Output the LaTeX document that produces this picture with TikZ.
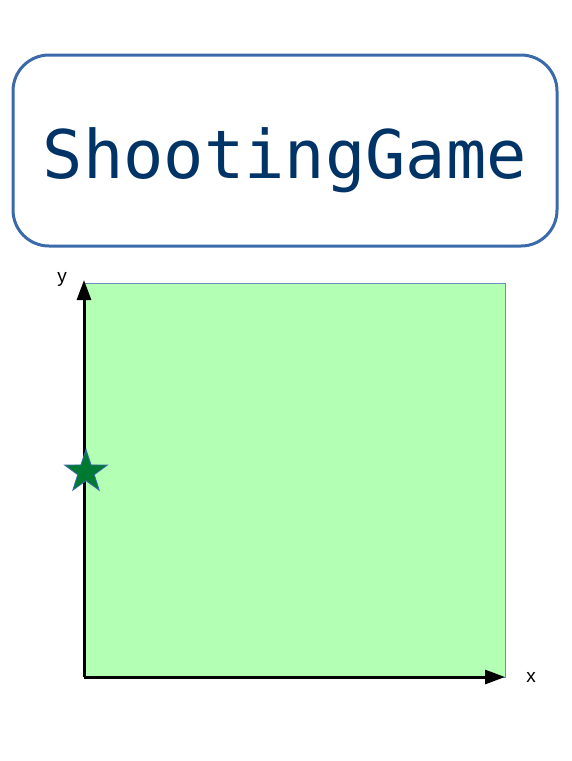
\documentclass[tikz,border=0pt]{standalone}
\usepackage{fontspec}
\setmainfont{Liberation Sans}
\newfontfamily\titlefont{DejaVu Sans Mono}
\usetikzlibrary{arrows.meta}
\definecolor{boxblue}{HTML}{3A6AAA}
\definecolor{navy}{HTML}{003366}
\definecolor{lightgreen}{HTML}{B3FFB3}
\definecolor{rectborder}{HTML}{6C8EBF}
\definecolor{stargreen}{HTML}{007A33}
\tikzset{
  titlebox/.style={draw=boxblue, line width=3pt, rounded corners=36pt, fill=white,
    minimum width=544pt, minimum height=191pt, inner sep=0pt},
  titletext/.style={text=navy, font=\titlefont\fontsize{67}{67}\selectfont, inner sep=0pt, anchor=base},
  field/.style={draw=rectborder, line width=0.8pt, fill=lightgreen},
  axis/.style={line width=3pt, black, -{Triangle[length=20pt,width=14pt]}},
  axislabel/.style={font=\fontsize{19}{19}\selectfont, inner sep=0pt, anchor=base},
  player/.style={draw=boxblue, line width=0.8pt, fill=stargreen, line join=miter}
}
\begin{document}
\begin{tikzpicture}[x=1pt,y=-1pt]
\useasboundingbox (0,0) rectangle (571,761);
\node[titlebox] (title) at (285,150.5) {};
\node[titletext] (titlelabel) at (285,178) {ShootingGame};
\coordinate (o) at (84,677);
\coordinate (ytop) at (84,280);
\coordinate (xend) at (505,677);
\coordinate (ne) at (505,283);
\draw[field] (o) rectangle (ne);
\draw[axis] (o) -- (ytop);
\draw[axis] (o) -- (xend);
\node[axislabel] (ylab) at (62,282) {y};
\node[axislabel] (xlab) at (531,682) {x};
\begin{scope}[shift={(86,472)}]
\draw[player] (-90:22.5) -- (-54:8.7) -- (-18:22.5) -- (18:8.7) -- (54:22.5) -- (90:8.7)
  -- (126:22.5) -- (162:8.7) -- (198:22.5) -- (234:8.7) -- cycle;
\end{scope}
\end{tikzpicture}
\end{document}
